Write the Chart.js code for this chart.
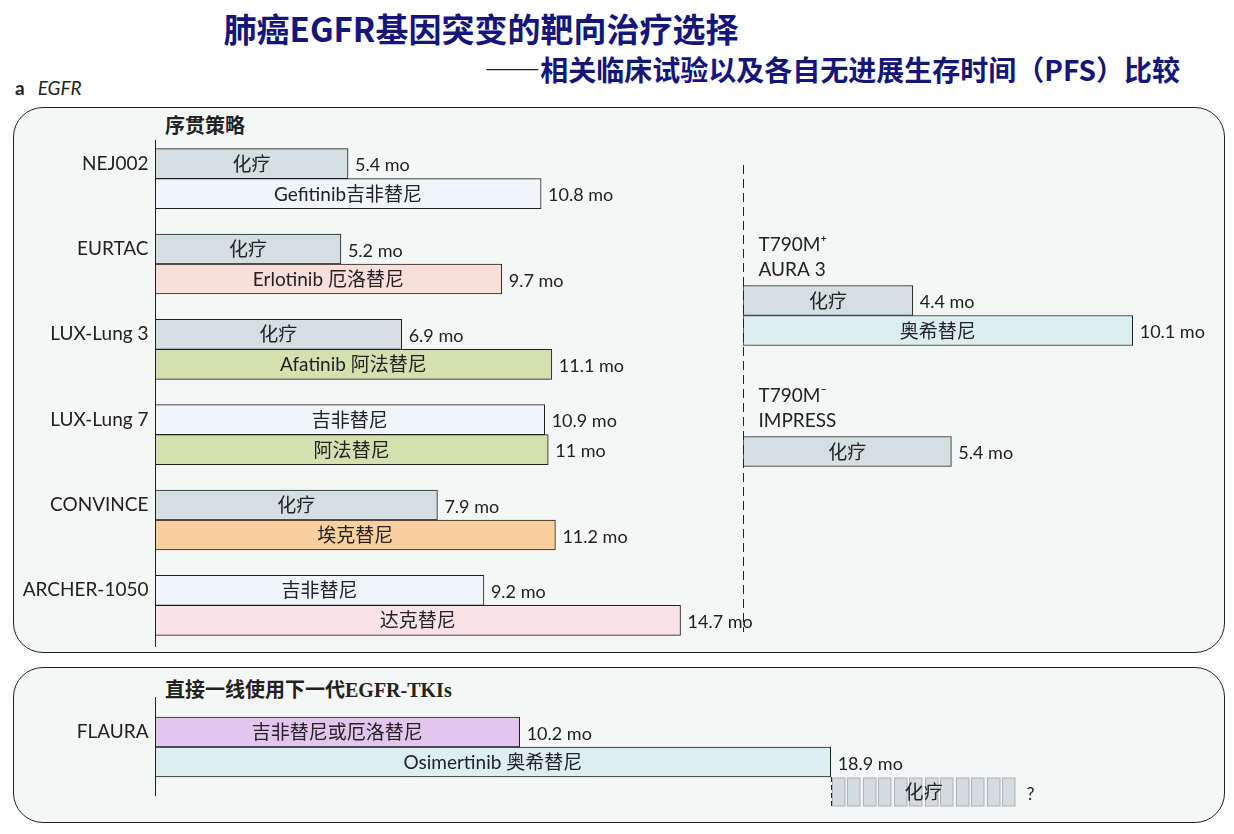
<!doctype html>
<html lang="zh">
  <head>
    <meta charset="utf-8">
    <title>肺癌EGFR基因突变的靶向治疗选择</title>
    <style>
      * {
        margin: 0;
        padding: 0;
      }
      body {
        width: 1234px;
        height: 834px;
        background: #fff;
        position: relative;
        overflow: hidden;
        font-family: "Noto Sans CJK SC", sans-serif;
        color: #222;
      }
      .title {
        position: absolute;
        left: 0;
        top: 12px;
        width: 962px;
        text-align: center;
        font-size: 33px;
        line-height: 33px;
        font-weight: bold;
        color: #15157a;
      }
      .subtitle {
        position: absolute;
        right: 54px;
        top: 55px;
        font-size: 28px;
        line-height: 28px;
        font-weight: bold;
        color: #15157a;
      }
      .tag {
        position: absolute;
        left: 15px;
        top: 77px;
        font-size: 19px;
        line-height: 21px;
        font-family: "Lato", "Noto Sans", sans-serif;
      }
      .tag b { margin-right: 13px; }
      .tag i { font-style: italic; }
      .panel {
        position: absolute;
        left: 13px;
        width: 1210px;
        border: 1px solid #222;
        border-radius: 30px;
        background: #f5f7f6;
      }
      .head {
        position: absolute;
        left: 165px;
        font-size: 20px;
        line-height: 20px;
        font-weight: bold;
        font-family: "Liberation Serif", "Noto Sans CJK SC", serif;
      }
      .box {
        position: absolute;
      }
    </style>
  </head>
  <body>
    <div class="title">肺癌EGFR基因突变的靶向治疗选择</div>
    <div class="subtitle">——相关临床试验以及各自无进展生存时间（PFS）比较</div>
    <div class="tag"><b>a</b><i>EGFR</i></div>

    <div class="panel" style="top:107px;height:544px;"></div>
    <div class="panel" style="top:667px;height:154px;"></div>
    <div class="head" style="top:116px;">序贯策略</div>
    <div class="head" style="top:680px;">直接一线使用下一代EGFR-TKIs</div>

    <div class="box" style="left:0;top:136px;width:775px;height:512px;"><canvas id="seqChart"></canvas></div>
    <div class="box" style="left:600px;top:160px;width:615px;height:475px;"><canvas id="t790Chart"></canvas></div>
    <div class="box" style="left:0;top:692px;width:1160px;height:126px;"><canvas id="flauraChart"></canvas></div>

    <script src="https://cdn.jsdelivr.net/npm/chart.js/dist/chart.umd.min.js"></script>
    <script>
    // sequential strategy trials
    const seqTrials = ['NEJ002', 'EURTAC', 'LUX-Lung 3', 'LUX-Lung 7', 'CONVINCE', 'ARCHER-1050'];
    const seqFirstArm = ['化疗', '化疗', '化疗', '吉非替尼', '化疗', '吉非替尼'];
    const seqFirstPfs = [5.4, 5.2, 6.9, 10.9, 7.9, 9.2];
    const seqSecondArm = ['Gefitinib吉非替尼', 'Erlotinib 厄洛替尼', 'Afatinib 阿法替尼', '阿法替尼', '埃克替尼', '达克替尼'];
    const seqSecondPfs = [10.8, 9.7, 11.1, 11, 11.2, 14.7];

    // T790M trials
    const t790Trials = ['AURA 3', 'IMPRESS'];
    const t790Status = ['T790M⁺', 'T790M⁻'];
    const t790FirstArm = ['化疗', '化疗'];
    const t790FirstPfs = [4.4, 5.4];
    const t790SecondArm = ['奥希替尼', null];
    const t790SecondPfs = [10.1, null];

    // first line FLAURA
    const flauraTrials = ['FLAURA'];
    const flauraArms = ['吉非替尼或厄洛替尼', 'Osimertinib 奥希替尼', '化疗'];
    const flauraPfs = [10.2, 18.9];
    const flauraChemoEnd = 24.1; // unknown, drawn as "?"

    const colors = {
      chemo: '#d3dfe0',
      gefitinib: '#eef5fb',
      erlotinib: '#f9dfd9',
      afatinib: '#d3e0b0',
      icotinib: '#f9cfa0',
      dacomitinib: '#f9e3e9',
      osimertinib: '#ddeef3',
      gefOrErl: '#e3c6ee'
    };

    const latin = '"Lato", "Noto Sans", "Noto Sans CJK SC", sans-serif';

    const mo = (v) => v + ' mo';

    // draws axis line, text inside bars, values and trial names
    const barText = {
      id: 'barText',
      afterDatasetsDraw(chart, args, opts) {
        const ctx = chart.ctx;
        const x0 = Math.round(chart.scales.x.getPixelForValue(0)) + 0.5;
        ctx.save();
        ctx.strokeStyle = '#222';
        ctx.lineWidth = 1;
        if (opts.dashed) ctx.setLineDash([9, 5]);
        ctx.beginPath();
        ctx.moveTo(x0, opts.axisTop);
        ctx.lineTo(x0, opts.axisBottom);
        ctx.stroke();
        ctx.setLineDash([]);

        chart.data.datasets.forEach((ds, di) => {
          const meta = chart.getDatasetMeta(di);
          meta.data.forEach((bar, i) => {
            if (ds.data[i] == null) return;
            const p = bar.getProps(['x', 'y', 'base', 'height'], true);
            if (ds.striped) {
              const w = p.x - p.base;
              const n = Math.round(w / 15.5);
              const pitch = w / n;
              for (let k = 0; k < n; k++) {
                ctx.fillStyle = '#d3dcdf';
                ctx.strokeStyle = '#aab4b7';
                const sx = Math.round(p.base + k * pitch) + 1.5;
                ctx.fillRect(sx, p.y - p.height / 2 + 1, pitch - 3, p.height - 2);
                ctx.strokeRect(sx, p.y - p.height / 2 + 1, pitch - 3, p.height - 2);
              }
              ctx.strokeStyle = '#222';
              ctx.setLineDash([5, 3]);
              ctx.beginPath();
              ctx.moveTo(Math.round(p.base) + 0.5, p.y - p.height / 2);
              ctx.lineTo(Math.round(p.base) + 0.5, p.y + p.height / 2);
              ctx.stroke();
              ctx.setLineDash([]);
            }
            ctx.fillStyle = '#222';
            ctx.textBaseline = 'middle';
            ctx.font = '19px ' + latin;
            ctx.textAlign = 'center';
            ctx.fillText(ds.arms[i], (p.x + p.base) / 2, p.y + 1);
            ctx.font = '18px ' + latin;
            ctx.textAlign = 'left';
            const val = ds.striped ? '?' : mo(ds.data[i]);
            ctx.fillText(val, p.x + (ds.striped ? 10 : 7), p.y + 2);
          });
        });

        // trial names, taken from the first bar of each row
        const first = chart.getDatasetMeta(0).data;
        ctx.font = '19px ' + latin;
        ctx.fillStyle = '#222';
        chart.data.labels.forEach((name, i) => {
          const p = first[i].getProps(['y', 'height'], true);
          if (opts.above) {
            const top = p.y - p.height / 2;
            ctx.textAlign = 'left';
            ctx.textBaseline = 'middle';
            ctx.fillText(opts.status[i], x0 + 15, top - 41);
            ctx.fillText(name, x0 + 15, top - 16);
          } else {
            ctx.textAlign = 'right';
            ctx.textBaseline = 'middle';
            ctx.fillText(name, x0 - 7, p.y);
          }
        });
        ctx.restore();
      }
    };

    function baseOptions(max, padding, textOpts) {
      return {
        indexAxis: 'y',
        responsive: true,
        maintainAspectRatio: false,
        animation: false,
        layout: { padding },
        scales: {
          x: { display: false, min: 0, max },
          y: { display: false }
        },
        datasets: {
          bar: { barThickness: 30, borderColor: '#1e1e1e', borderWidth: 1, borderSkipped: false }
        },
        plugins: {
          legend: { display: false },
          tooltip: { enabled: false },
          barText: textOpts
        }
      };
    }

    new Chart(document.getElementById('seqChart'), {
      type: 'bar',
      data: {
        labels: seqTrials,
        datasets: [{
          data: seqFirstPfs,
          arms: seqFirstArm,
          backgroundColor: [colors.chemo, colors.chemo, colors.chemo, colors.gefitinib, colors.chemo, colors.gefitinib]
        }, {
          data: seqSecondPfs,
          arms: seqSecondArm,
          backgroundColor: [colors.gefitinib, colors.erlotinib, colors.afatinib, colors.afatinib, colors.icotinib, colors.dacomitinib]
        }]
      },
      options: baseOptions(16, { left: 155, right: 48, top: 0, bottom: 0 }, { axisTop: 4, axisBottom: 511 }),
      plugins: [barText]
    });

    new Chart(document.getElementById('t790Chart'), {
      type: 'bar',
      data: {
        labels: t790Trials,
        datasets: [{
          data: t790FirstPfs,
          arms: t790FirstArm,
          backgroundColor: colors.chemo
        }, {
          data: t790SecondPfs,
          arms: t790SecondArm,
          backgroundColor: colors.osimertinib
        }]
      },
      options: baseOptions(12, { left: 143, right: 9, top: 80, bottom: 93 },
        { axisTop: 5, axisBottom: 472, dashed: true, above: true, status: t790Status }),
      plugins: [barText]
    });

    new Chart(document.getElementById('flauraChart'), {
      type: 'bar',
      data: {
        labels: flauraTrials,
        datasets: [{
          data: [flauraPfs[0]],
          arms: [flauraArms[0]],
          backgroundColor: colors.gefOrErl
        }, {
          data: [flauraPfs[1]],
          arms: [flauraArms[1]],
          backgroundColor: colors.osimertinib
        }, {
          data: [[flauraPfs[1], flauraChemoEnd]],
          arms: [flauraArms[2]],
          striped: true,
          backgroundColor: 'rgba(0,0,0,0)',
          borderWidth: 0
        }]
      },
      options: baseOptions(28, { left: 155, right: 4, top: 20, bottom: 6 }, { axisTop: 5, axisBottom: 104 }),
      plugins: [barText]
    });
    </script>
  </body>
</html>
